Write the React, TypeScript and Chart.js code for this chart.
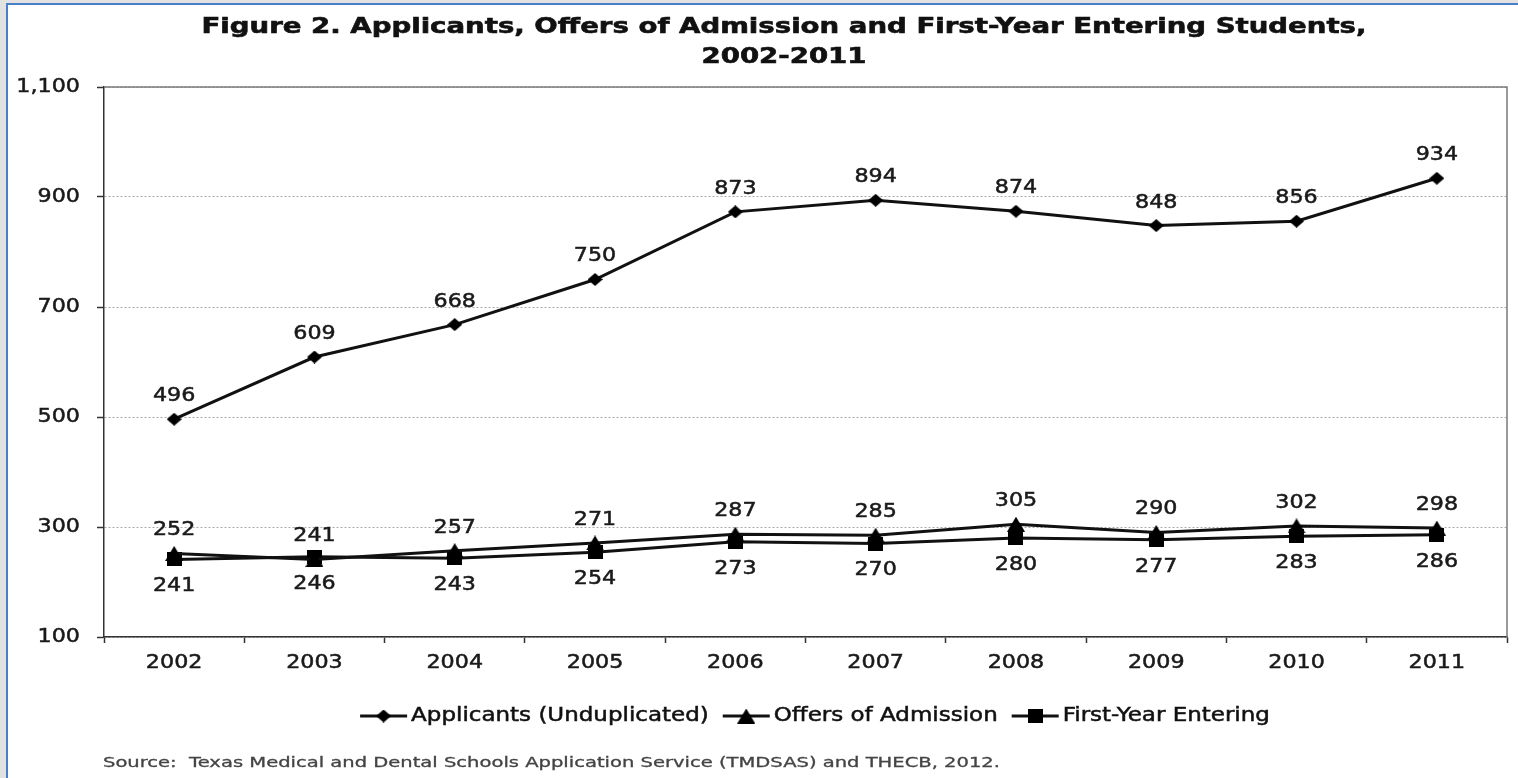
import React, { useEffect, useRef } from 'react';
import { Chart, registerables } from 'chart.js';

Chart.register(...registerables);

const years = ['2002', '2003', '2004', '2005', '2006', '2007', '2008', '2009', '2010', '2011'];
const applicants = [496, 609, 668, 750, 873, 894, 874, 848, 856, 934];
const offers = [252, 241, 257, 271, 287, 285, 305, 290, 302, 298];
const firstYear = [241, 246, 243, 254, 273, 270, 280, 277, 283, 286];
const yTickLabels: Record<number, string> = { 100: '100', 300: '300', 500: '500', 700: '700', 900: '900', 1100: '1,100' };
const titleLines = ['Figure 2. Applicants, Offers of Admission and First-Year Entering Students,', '2002-2011'];
const legendLabels = ['Applicants (Unduplicated)', 'Offers of Admission', 'First-Year Entering'];
const sourceText = 'Source:  Texas Medical and Dental Schools Application Service (TMDSAS) and THECB, 2012.';

const FONT = '"DejaVu Sans", Verdana, sans-serif';
const SX = 1.17;
const LSX = 1.21;

function drawText(
  ctx: CanvasRenderingContext2D,
  text: string,
  x: number,
  y: number,
  font: string,
  align: CanvasTextAlign,
  sx: number,
  color: string,
  stroke = 0.5
) {
  ctx.save();
  ctx.font = font;
  ctx.fillStyle = color;
  ctx.strokeStyle = color;
  ctx.lineWidth = stroke;
  ctx.textBaseline = 'middle';
  ctx.textAlign = align;
  ctx.translate(x, y);
  ctx.scale(sx, 1);
  ctx.fillText(text, 0, 0);
  if (stroke > 0) ctx.strokeText(text, 0, 0);
  ctx.restore();
}

function fitScale(ctx: CanvasRenderingContext2D, text: string, font: string, target: number) {
  ctx.save();
  ctx.font = font;
  const w = ctx.measureText(text).width;
  ctx.restore();
  return target / w;
}

function makeMarker(kind: 'diamond' | 'triangle' | 'square'): HTMLCanvasElement {
  const c = document.createElement('canvas');
  let w = 15, h = 13;
  if (kind === 'triangle') { w = 18; h = 15; }
  if (kind === 'square') { w = 15; h = 14; }
  c.width = w; c.height = h;
  const g = c.getContext('2d')!;
  g.fillStyle = '#000';
  g.beginPath();
  if (kind === 'diamond') {
    g.moveTo(w / 2, 0); g.lineTo(w, h / 2); g.lineTo(w / 2, h); g.lineTo(0, h / 2);
  } else if (kind === 'triangle') {
    g.moveTo(w / 2, 0); g.lineTo(w, h); g.lineTo(0, h);
  } else {
    g.rect(0, 0, w, h);
  }
  g.closePath();
  g.fill();
  return c;
}

export default function App() {
  const ref = useRef<HTMLCanvasElement | null>(null);

  useEffect(() => {
    if (!ref.current) return;
    const markers = [makeMarker('diamond'), makeMarker('triangle'), makeMarker('square')];
    const labelOffsets = [-23, -23, 27];

    const textPlugin = {
      id: 'textPlugin',
      beforeDatasetsDraw(chart: any) {
        const { ctx, chartArea } = chart;
        ctx.save();
        ctx.strokeStyle = '#7a7a7a';
        ctx.lineWidth = 1.5;
        ctx.beginPath();
        ctx.moveTo(chartArea.left, chartArea.top);
        ctx.lineTo(chartArea.right, chartArea.top);
        ctx.lineTo(chartArea.right, chartArea.bottom);
        ctx.stroke();
        ctx.restore();
      },
      afterDatasetsDraw(chart: any) {
        const { ctx } = chart;
        chart.data.datasets.forEach((ds: any, i: number) => {
          const meta = chart.getDatasetMeta(i);
          meta.data.forEach((pt: any, j: number) => {
            drawText(ctx, String(ds.data[j]), pt.x, pt.y + labelOffsets[i], `19px ${FONT}`, 'center', SX, '#1a1a1a');
          });
        });
      },
      afterDraw(chart: any) {
        const { ctx, chartArea } = chart;
        const xs = chart.scales.x;
        const ys = chart.scales.y;
        years.forEach((yr, j) => {
          drawText(ctx, yr, xs.getPixelForValue(j), chartArea.bottom + 26, `19px ${FONT}`, 'center', SX, '#1a1a1a');
        });
        ys.ticks.forEach((t: any) => {
          const lbl = yTickLabels[t.value] ?? String(t.value);
          drawText(ctx, lbl, chartArea.left - 24, ys.getPixelForValue(t.value), `19px ${FONT}`, 'right', SX, '#1a1a1a');
        });
        // title
        const tFont = `bold 21px ${FONT}`;
        const tsx = fitScale(ctx, titleLines[0], tFont, 1165);
        drawText(ctx, titleLines[0], 784, 28, tFont, 'center', tsx, '#111', 0.6);
        drawText(ctx, titleLines[1], 784, 58, tFont, 'center', tsx, '#111', 0.6);
        // legend
        const lFont = `19px ${FONT}`;
        ctx.save();
        ctx.font = lFont;
        const lineLen = 47;
        const gapText = 4;
        const gapItem = 14;
        const widths = legendLabels.map((l) => ctx.measureText(l).width * LSX);
        ctx.restore();
        const total = widths.reduce((a, b) => a + b, 0) + legendLabels.length * (lineLen + gapText) + (legendLabels.length - 1) * gapItem;
        let lx = 815 - total / 2;
        const ly = 716;
        legendLabels.forEach((l, i) => {
          ctx.save();
          ctx.strokeStyle = '#111';
          ctx.lineWidth = 3;
          ctx.beginPath();
          ctx.moveTo(lx, ly);
          ctx.lineTo(lx + lineLen, ly);
          ctx.stroke();
          const m = markers[i];
          ctx.drawImage(m, lx + lineLen / 2 - m.width / 2, ly - m.height / 2);
          ctx.restore();
          drawText(ctx, l, lx + lineLen + gapText, ly, lFont, 'left', LSX, '#111');
          lx += lineLen + gapText + widths[i] + gapItem;
        });
        // source
        const sFont = `14px ${FONT}`;
        const ssx = fitScale(ctx, sourceText, sFont, 897);
        drawText(ctx, sourceText, 103, 763, sFont, 'left', ssx, '#444', 0.3);
      },
    };

    const chart = new Chart(ref.current, {
      type: 'line',
      data: {
        labels: years,
        datasets: [
          { label: legendLabels[0], data: applicants, borderColor: '#111', borderWidth: 3, pointStyle: markers[0] as any, pointRadius: 7, tension: 0 },
          { label: legendLabels[1], data: offers, borderColor: '#111', borderWidth: 3, pointStyle: markers[1] as any, pointRadius: 8, tension: 0 },
          { label: legendLabels[2], data: firstYear, borderColor: '#111', borderWidth: 3, pointStyle: markers[2] as any, pointRadius: 7, tension: 0 },
        ],
      },
      options: {
        responsive: false,
        animation: false,
        layout: { padding: { left: 0, top: 87, right: 5, bottom: 81 } },
        plugins: { legend: { display: false }, title: { display: false }, tooltip: { enabled: false } },
        scales: {
          x: {
            type: 'category',
            offset: true,
            ticks: { display: false },
            grid: { display: true, drawOnChartArea: false, drawTicks: true, tickLength: 6, offset: true, tickColor: '#333', tickWidth: 1.5 },
            border: { display: true, color: '#333', width: 1.5 },
            afterFit: (s: any) => { s.height = 60; },
          },
          y: {
            min: 100,
            max: 1100,
            ticks: { display: false, stepSize: 200 },
            grid: { color: '#a8a8a8', lineWidth: 1, drawTicks: true, tickLength: 7, tickColor: '#333', tickWidth: 1.5 },
            border: { display: true, color: '#333', width: 1.5, dash: [2, 2] },
            afterFit: (s: any) => { s.width = 104; },
          },
        },
      },
      plugins: [textPlugin],
    });
    return () => chart.destroy();
  }, []);

  return (
    <div style={{ position: 'fixed', left: 0, top: 0, width: 1518, height: 778, background: '#e2e2e2', overflow: 'hidden' }}>
      <div
        style={{
          position: 'absolute', left: 6, top: 3, right: 0, bottom: 0, background: '#fff',
          borderLeft: '2px solid #4a80c6', borderTop: '2px solid #4a80c6',
        }}
      />
      <canvas ref={ref} width={1518} height={778} style={{ position: 'absolute', left: 0, top: 0 }} />
    </div>
  );
}
